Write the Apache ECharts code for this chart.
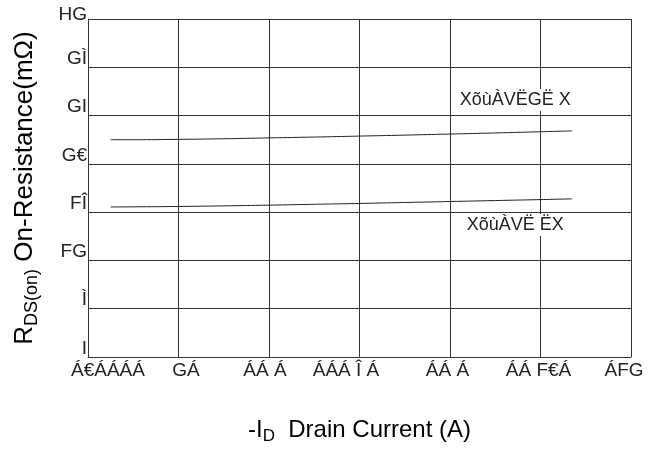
<!DOCTYPE html>
<html>
<head>
<meta charset="utf-8">
<script src="https://cdn.jsdelivr.net/npm/echarts@6/dist/echarts.min.js"></script>
<style>
html,body{margin:0;padding:0;background:#fff;}
#chart{width:661px;height:453px;}
</style>
</head>
<body>
<div id="chart"></div>
<script>
// Drain current (A)
const currentA = [0.5, 1, 2, 3, 4, 5, 6, 7, 8, 9, 10, 10.7];
// R_DS(on) curves (mOhm)
const rdsUpper = [22.0, 22.0, 22.03, 22.08, 22.15, 22.22, 22.3, 22.38, 22.47, 22.56, 22.66, 22.73];
const rdsLower = [16.43, 16.44, 16.47, 16.52, 16.58, 16.65, 16.72, 16.8, 16.88, 16.96, 17.04, 17.1];
// Tick labels as they appear
const xTickLabels = ['Á€ÁÁÁÁ', 'GÁ', 'ÁÁ Á', 'ÁÁÁ Î Á', 'ÁÁ Á', 'ÁÁ F€Á', 'ÁFG'];
const yTickLabels = {4: 'I', 8: 'Ì', 12: 'FG', 16: 'FÎ', 20: 'G€', 24: 'GI', 28: 'GÌ', 32: 'HG'};
// Curve annotations
const curveNames = ['XõùÀVËGË X', 'XõùÀVË ËX'];
const curveNamePos = [[9.44, 25.3], [9.44, 14.93]];

const FONT = 'Liberation Sans, Arial, sans-serif';
const lineColor = '#333';
const textColor = '#222';
const xShift = [20, 7.5, -4, -13.5, -2.5, -2, -7];
const xRich = {};
xShift.forEach((s, i) => {
  xRich['l' + i] = {
    fontSize: 19, fontFamily: FONT, color: textColor,
    padding: s >= 0 ? [0, 0, 0, 2 * s] : [0, -2 * s, 0, 0]
  };
});

const chart = echarts.init(document.getElementById('chart'));
chart.setOption({
  animation: false,
  backgroundColor: '#fff',
  grid: {left: 88, right: 30, top: 19, bottom: 96, containLabel: false},
  xAxis: {
    type: 'value', min: 0, max: 12, interval: 2,
    axisLine: {show: true, lineStyle: {color: lineColor, width: 1}},
    axisTick: {show: false},
    splitLine: {show: true, lineStyle: {color: lineColor, width: 1}},
    axisLabel: {
      margin: 4, showMaxLabel: true, showMinLabel: true,
      formatter: (v) => { const i = Math.round(v / 2); return '{l' + i + '|' + xTickLabels[i] + '}'; },
      rich: xRich
    },
    name: '{a|-I}{s|D}{a|  Drain Current (A)}',
    nameLocation: 'middle', nameGap: 58,
    nameTextStyle: {
      rich: {
        a: {fontSize: 24, fontFamily: FONT, color: '#000'},
        s: {fontSize: 17, fontFamily: FONT, color: '#000', padding: [13, 0, 0, 0]}
      }
    }
  },
  yAxis: {
    type: 'value', min: 4, max: 32, interval: 4,
    axisLine: {show: true, lineStyle: {color: lineColor, width: 1}},
    axisTick: {show: false},
    splitLine: {show: true, lineStyle: {color: lineColor, width: 1}},
    axisLabel: {
      margin: 1, verticalAlign: 'bottom', showMaxLabel: true,
      formatter: (v) => yTickLabels[v] ? (v === 32 ? '{t|' : '{b|') + yTickLabels[v] + '}' : '',
      rich: {
        b: {fontSize: 19, fontFamily: FONT, color: textColor, lineHeight: 17},
        t: {fontSize: 19, fontFamily: FONT, color: textColor, lineHeight: 8}
      }
    },
    name: '{a|R}{s|DS(on)}{a| On-Resistance(mΩ)}',
    nameLocation: 'middle', nameGap: 47, nameRotate: 90,
    nameTextStyle: {
      rich: {
        a: {fontSize: 26, fontFamily: FONT, color: '#000'},
        s: {fontSize: 18, fontFamily: FONT, color: '#000', padding: [14, 0, 0, 0]}
      }
    }
  },
  series: [
    {
      type: 'line', data: currentA.map((x, i) => [x, rdsUpper[i]]),
      showSymbol: false, smooth: true,
      lineStyle: {color: '#222', width: 1},
      markPoint: {
        symbol: 'rect', symbolSize: 0,
        label: {show: true, position: 'inside', formatter: curveNames[0], fontSize: 18, fontFamily: FONT, color: textColor, backgroundColor: '#fff', padding: [2, 2]},
        data: [{coord: curveNamePos[0]}]
      }
    },
    {
      type: 'line', data: currentA.map((x, i) => [x, rdsLower[i]]),
      showSymbol: false, smooth: true,
      lineStyle: {color: '#222', width: 1},
      markPoint: {
        symbol: 'rect', symbolSize: 0,
        label: {show: true, position: 'inside', formatter: curveNames[1], fontSize: 18, fontFamily: FONT, color: textColor, backgroundColor: '#fff', padding: [2, 2]},
        data: [{coord: curveNamePos[1]}]
      }
    }
  ]
});
</script>
</body>
</html>
